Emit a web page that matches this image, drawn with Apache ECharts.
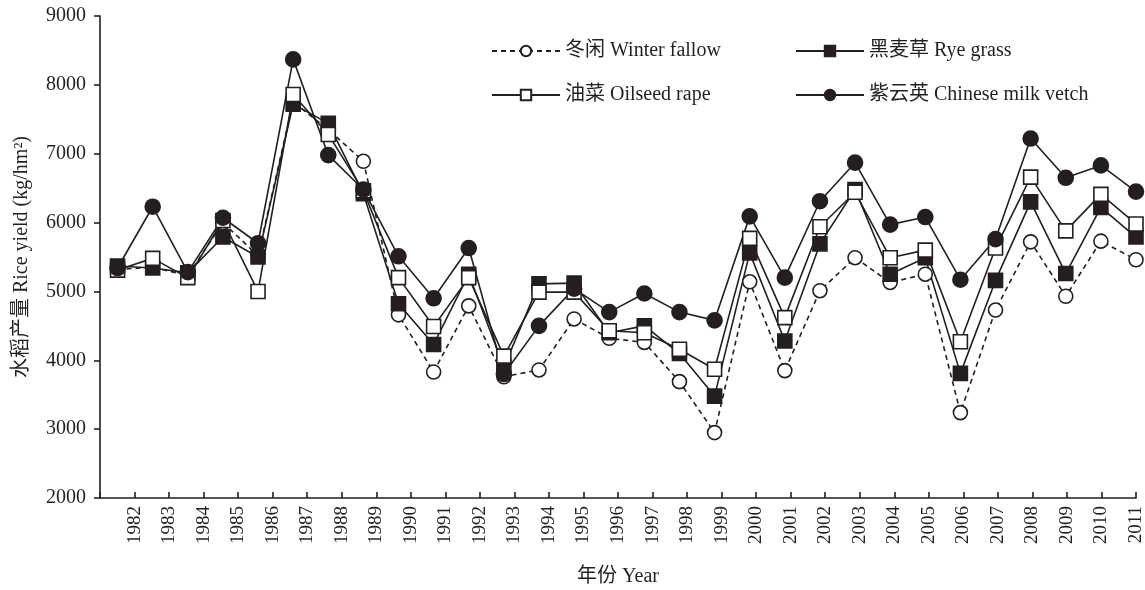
<!DOCTYPE html>
<html>
	<head>
		<meta charset="utf-8">
		<title></title>
		<script src="https://cdn.jsdelivr.net/npm/echarts@6/dist/echarts.min.js"></script>
		<style>
			body { margin: 0; background: #fff; }
		</style>
	</head>
	<body>
		<div id="my" style="width: 1145px;height: 590px;"></div>

		<script>
			var myChart = echarts.init(document.getElementById('my'));

			var years = [1982,1983,1984,1985,1986,1987,1988,1989,1990,1991,1992,1993,1994,1995,1996,
					1997,1998,1999,2000,2001,2002,2003,2004,2005,2006,2007,2008,2009,2010,2011];
			var yearLabels = [''].concat(years.map(String));

			var winterFallow = [5320,5350,5230,6000,5520,7750,7350,6890,4660,3830,4790,3760,3860,4600,4320,
					4260,3690,2950,5140,3850,5010,5490,5130,5250,3240,4730,5720,4930,5730,5460];
			var ryeGrass = [5370,5340,5270,5790,5500,7720,7440,6420,4820,4230,5250,3900,5110,5120,4400,
					4500,4100,3480,5560,4280,5690,6480,5250,5490,3810,5160,6300,5260,6220,5790];
			var oilseedRape = [5310,5480,5200,6030,5000,7860,7280,6460,5200,4490,5200,4060,4990,4990,4430,
					4400,4160,3870,5770,4620,5940,6440,5490,5600,4270,5630,6660,5880,6410,5980];
			var milkVetch = [5340,6230,5280,6070,5700,8370,6980,6480,5510,4900,5630,3800,4500,5040,4700,
					4970,4700,4580,6090,5200,6310,6870,5970,6080,5170,5760,7220,6650,6830,6450];

			var ink = '#231f20';
			var font = '"Liberation Serif", "Noto Sans CJK SC", serif';

			function pts(vals) {
				return years.map(function (y, i) { return [y, vals[i]]; });
			}

			function line(name, vals, symbol, fill, dashed, size) {
				return {
					name: name,
					type: 'line',
					xAxisIndex: 0,
					data: pts(vals),
					symbol: symbol,
					symbolSize: size,
					showAllSymbol: true,
					lineStyle: { color: ink, width: 1.6, type: dashed ? [5, 4] : 'solid' },
					itemStyle: { color: fill, borderColor: ink, borderWidth: 1.6, opacity: 1 },
					emphasis: { disabled: true },
					animation: false
				};
			}

			var legendText = { color: ink, fontSize: 20, fontFamily: font };

			var option = {
				backgroundColor: '#fff',
				grid: { left: 100, right: 9, top: 16, bottom: 92, containLabel: false, outerBoundsMode: 'none' },
				legend: [
					{
						orient: 'vertical', left: 486, top: 36,
						itemWidth: 68, itemHeight: 13, itemGap: 24,
						textStyle: legendText,
						data: ['冬闲 Winter fallow', '油菜 Oilseed rape']
					},
					{
						orient: 'vertical', left: 790, top: 36,
						itemWidth: 68, itemHeight: 13, itemGap: 24,
						textStyle: legendText,
						data: ['黑麦草 Rye grass', '紫云英 Chinese milk vetch']
					}
				],
				xAxis: [
					{
						type: 'value', min: 1981.5, max: 2011, show: false
					},
					{
						type: 'category',
						position: 'bottom',
						data: yearLabels,
						boundaryGap: false,
						name: '年份 Year',
						nameLocation: 'middle',
						nameGap: 69,
						nameTextStyle: { color: ink, fontSize: 20, fontFamily: font },
						axisLine: { lineStyle: { color: ink, width: 1.6 } },
						axisTick: { inside: true, length: 6, interval: 0, lineStyle: { color: ink, width: 1.6 } },
						axisLabel: { interval: 0, rotate: 90, color: ink, fontSize: 19, fontFamily: font, margin: 8 },
						splitLine: { show: false }
					}
				],
				yAxis: {
					type: 'value',
					min: 2000, max: 9000, interval: 1000,
					name: '水稻产量 Rice yield (kg/hm²)',
					nameLocation: 'middle',
					nameGap: 68,
					nameTextStyle: { color: ink, fontSize: 20, fontFamily: font },
					axisLine: { show: true, lineStyle: { color: ink, width: 1.6 } },
					axisTick: { show: true, length: 6, lineStyle: { color: ink, width: 1.6 } },
					axisLabel: {
						color: ink, fontSize: 20, fontFamily: font, margin: 14,
						formatter: function (v) { return String(v); }
					},
					splitLine: { show: false }
				},
				series: [
					line('冬闲 Winter fallow', winterFallow, 'circle', '#fff', true, 14),
					line('黑麦草 Rye grass', ryeGrass, 'rect', ink, false, 14),
					line('油菜 Oilseed rape', oilseedRape, 'rect', '#fff', false, 14),
					line('紫云英 Chinese milk vetch', milkVetch, 'circle', ink, false, 15)
				]
			};

			myChart.setOption(option);
		</script>
	</body>
</html>
